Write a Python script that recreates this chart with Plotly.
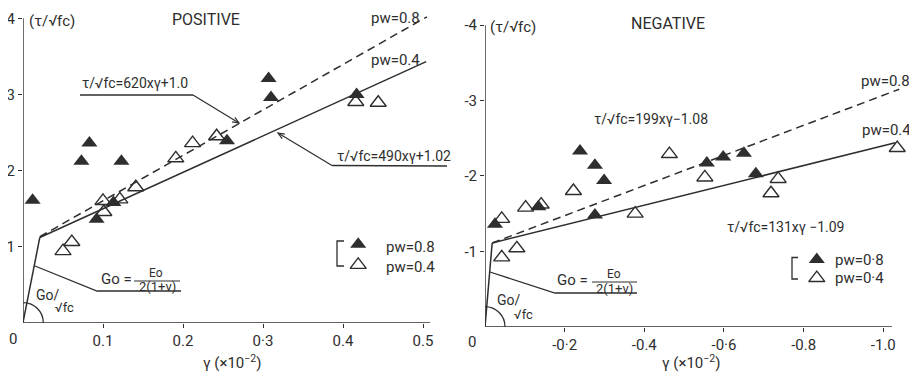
import math
import plotly.graph_objects as go

# ---------------- DATA (γ in ×10^-2, τ/√fc) ----------------
# Positive loading
pos_pw08_x = [0.012, 0.073, 0.083, 0.123, 0.092, 0.113, 0.255, 0.307, 0.310, 0.417]
pos_pw08_y = [1.61, 2.12, 2.36, 2.12, 1.36, 1.58, 2.39, 3.21, 2.96, 3.00]
pos_pw04_x = [0.050, 0.061, 0.100, 0.101, 0.121, 0.141, 0.191, 0.212, 0.242, 0.416, 0.444]
pos_pw04_y = [0.94, 1.06, 1.60, 1.455, 1.62, 1.78, 2.16, 2.36, 2.45, 2.90, 2.89]
pos_elastic_x = [0.0, 0.021]
pos_elastic_y = [0.0, 1.12]
pos_fit08_x = [0.021, 0.505]
pos_fit08_y = [1.13, 4.02]
pos_fit04_x = [0.021, 0.504]
pos_fit04_y = [1.12, 3.43]
pos_xaxis_x = [0.0, 0.509]
pos_yaxis_y = [0.0, 4.0]

# Negative loading
neg_pw08_x = [-0.025, -0.134, -0.2385, -0.276, -0.299, -0.276, -0.557, -0.598, -0.650, -0.680]
neg_pw08_y = [-1.36, -1.59, -2.33, -2.14, -1.94, -1.48, -2.17, -2.25, -2.30, -2.03]
neg_pw04_x = [-0.042, -0.080, -0.042, -0.102, -0.141, -0.222, -0.377, -0.463, -0.552, -0.718, -0.736, -1.035]
neg_pw04_y = [-0.92, -1.04, -1.43, -1.58, -1.62, -1.80, -1.50, -2.29, -1.98, -1.77, -1.96, -2.37]
neg_elastic_x = [0.0, -0.018]
neg_elastic_y = [0.0, -1.11]
neg_fit08_x = [-0.018, -1.04]
neg_fit08_y = [-1.11, -3.15]
neg_fit04_x = [-0.018, -1.03]
neg_fit04_y = [-1.11, -2.44]
neg_xaxis_x = [0.0, -1.022]
neg_yaxis_y = [0.0, -4.0]

# Legend keys
pos_key_x = [0.419]
pos_key08_y = [1.03]
pos_key04_y = [0.76]
neg_key_x = [-0.833]
neg_key08_y = [-0.89]
neg_key04_y = [-0.645]

# Tick labels
pos_xtick_vals = [0.1, 0.2, 0.3, 0.4, 0.5]
pos_xtick_text = ["0.1", "0.2", "0·3", "0.4", "0.5"]
pos_ytick_vals = [1, 2, 3, 4]
pos_ytick_text = ["1", "2", "3", "4"]
neg_xtick_vals = [-0.2, -0.4, -0.6, -0.8, -1.0]
neg_xtick_text = ["-0·2", "-0.4", "-0·6", "-0.8", "-1.0"]
neg_ytick_vals = [-1, -2, -3, -4]
neg_ytick_text = ["-1", "-2", "-3", "-4"]

# ---------------- STYLE ----------------
OFF = 8                      # page body margin of the html page
W, H = 917 - OFF, 372 - OFF  # figure size so that it fills the window
INK = "#2e2e2e"
FONT = "Roboto"

fig = go.Figure()


def add_line(x, y, xa, ya, dash=None, width=1.5):
    fig.add_trace(go.Scatter(x=x, y=y, mode="lines", xaxis=xa, yaxis=ya,
                             line=dict(color=INK, width=width, dash=dash),
                             showlegend=False, hoverinfo="skip"))


def add_pts(x, y, xa, ya, filled):
    fig.add_trace(go.Scatter(
        x=x, y=y, mode="markers", xaxis=xa, yaxis=ya, cliponaxis=False,
        marker=dict(symbol="triangle-up" if filled else "triangle-up-open",
                    size=14, color=INK, line=dict(color=INK, width=0 if filled else 1.4)),
        showlegend=False, hoverinfo="skip"))


# axes drawn as lines
add_line(pos_xaxis_x, [0, 0], "x", "y", width=1.4)
add_line([0, 0], pos_yaxis_y, "x", "y", width=1.4)
add_line(neg_xaxis_x, [0, 0], "x2", "y2", width=1.4)
add_line([0, 0], neg_yaxis_y, "x2", "y2", width=1.4)

# positive panel
add_line(pos_elastic_x, pos_elastic_y, "x", "y")
add_line(pos_fit08_x, pos_fit08_y, "x", "y", dash="8px,5px")
add_line(pos_fit04_x, pos_fit04_y, "x", "y")
add_pts(pos_pw08_x, pos_pw08_y, "x", "y", True)
add_pts(pos_pw04_x, pos_pw04_y, "x", "y", False)
add_pts(pos_key_x, pos_key08_y, "x", "y", True)
add_pts(pos_key_x, pos_key04_y, "x", "y", False)

# negative panel
add_line(neg_elastic_x, neg_elastic_y, "x2", "y2")
add_line(neg_fit08_x, neg_fit08_y, "x2", "y2", dash="8px,5px")
add_line(neg_fit04_x, neg_fit04_y, "x2", "y2")
add_pts(neg_pw08_x, neg_pw08_y, "x2", "y2", True)
add_pts(neg_pw04_x, neg_pw04_y, "x2", "y2", False)
add_pts(neg_key_x, neg_key08_y, "x2", "y2", True)
add_pts(neg_key_x, neg_key04_y, "x2", "y2", False)


def px(x):
    return (x - OFF) / W


def py(y):
    return 1 - (y - OFF) / H


annotations = []
shapes = []


def txt(x, y, s, size=15, xanchor="center"):
    annotations.append(dict(x=px(x), y=py(y), xref="paper", yref="paper", text=s,
                            showarrow=False, xanchor=xanchor, yanchor="middle",
                            font=dict(family=FONT, size=size, color=INK)))


def poly(points, width=1.3):
    d = "M " + " L ".join(f"{px(a):.5f},{py(b):.5f}" for a, b in points)
    shapes.append(dict(type="path", path=d, xref="paper", yref="paper",
                       line=dict(color=INK, width=width)))


def arc(cx, cy, r):
    k = 0.5523 * r
    d = (f"M {px(cx):.5f},{py(cy - r):.5f} C {px(cx + k):.5f},{py(cy - r):.5f} "
         f"{px(cx + r):.5f},{py(cy - k):.5f} {px(cx + r):.5f},{py(cy):.5f}")
    shapes.append(dict(type="path", path=d, xref="paper", yref="paper",
                       line=dict(color=INK, width=1.3)))


def arrow(tail, tip, L=7, ang=22):
    poly([tail, tip], 1.2)
    dx, dy = tip[0] - tail[0], tip[1] - tail[1]
    n = math.hypot(dx, dy)
    ux, uy = dx / n, dy / n
    pts = []
    for s in (1, -1):
        a = math.radians(ang) * s
        rx = ux * math.cos(a) - uy * math.sin(a)
        ry = ux * math.sin(a) + uy * math.cos(a)
        pts.append((tip[0] - L * rx, tip[1] - L * ry))
    poly([pts[0], tip, pts[1]], 1.2)


TAU = "τ/√fc"

# ---- positive panel texts ----
txt(206, 19, "POSITIVE", 16)
txt(52, 21, "(" + TAU + ")", 15)
txt(395, 18, "pw=0.8", 15)
txt(395, 60, "pw=0.4", 15)
txt(80, 83, TAU + "=620xγ+1.0", 14, "left")
poly([(80, 95), (193, 95)])
arrow((193, 95), (239, 123))
txt(335, 156, TAU + "=490xγ+1.02", 14, "left")
poly([(447, 166), (332, 165.5)])
arrow((332, 165.5), (278, 133))
poly([(344, 241), (337, 241), (337, 266), (344, 266)])
txt(384, 246.5, "pw=0.8", 15, "left")
txt(384, 266.5, "pw=0.4", 15, "left")
txt(116, 279, "Go =", 15)
txt(156, 273, "Eo", 12)
poly([(134, 281), (180, 281)], 1.1)
txt(157, 286.5, "2(1+ν)", 13)
poly([(35, 266), (97, 291), (181, 291)])
txt(48, 295, "Go/", 14)
txt(64, 307, "√fc", 13)
arc(23.3, 322.7, 20)
txt(232, 361.5, "γ (×10<sup>−2</sup>)", 15)
txt(12.5, 339, "0", 15)

# ---- negative panel texts ----
txt(668, 23.5, "NEGATIVE", 16)
txt(513, 27, "(" + TAU + ")", 15)
txt(885, 81, "pw=0.8", 15)
txt(886, 130, "pw=0.4", 15)
txt(592, 118.5, TAU + "=199xγ−1.08", 14, "left")
txt(725, 227, TAU + "=131xγ −1.09", 14, "left")
poly([(798, 257.5), (792, 257.5), (792, 279), (798, 279)])
txt(833, 259.5, "pw=0·8", 15, "left")
txt(833, 278, "pw=0·4", 15, "left")
txt(572, 280, "Go =", 15)
txt(614, 274, "Eo", 12)
poly([(592, 282), (637, 282)], 1.1)
txt(614, 288, "2(1+ν)", 13)
poly([(490, 272), (555, 293), (637, 293)])
txt(509, 300, "Go/", 14)
txt(523, 314, "√fc", 13)
arc(485, 326.7, 20)
txt(691, 361.5, "γ (×10<sup>−2</sup>)", 15)
txt(472, 341.5, "0", 15)

tickfont = dict(family=FONT, size=15, color=INK)
common = dict(showgrid=False, zeroline=False, showline=False, ticks="outside",
              ticklen=4, tickwidth=1.3, tickcolor=INK, tickfont=tickfont,
              automargin=False, fixedrange=True, tickmode="array")

fig.update_layout(
    width=W, height=H, margin=dict(l=0, r=0, t=0, b=0),
    paper_bgcolor="white", plot_bgcolor="rgba(0,0,0,0)",
    font=dict(family=FONT, color=INK),
    xaxis=dict(domain=[px(23), px(451)], range=[0, 0.535], anchor="y",
               tickvals=pos_xtick_vals, ticktext=pos_xtick_text, **common),
    yaxis=dict(domain=[py(322.7), py(8.0)], range=[0, (322.7 - 8.0) / 76.1], anchor="x",
               tickvals=pos_ytick_vals, ticktext=pos_ytick_text, **common),
    xaxis2=dict(domain=[px(485), px(907.2)], range=[0, -1.06], anchor="y2",
                tickvals=neg_xtick_vals, ticktext=neg_xtick_text, **common),
    yaxis2=dict(domain=[py(326.7), py(17.6)], range=[0, -4.1], anchor="x2",
                tickvals=neg_ytick_vals, ticktext=neg_ytick_text, **common),
    annotations=annotations,
    shapes=shapes,
)

fig.write_html("out.html")
